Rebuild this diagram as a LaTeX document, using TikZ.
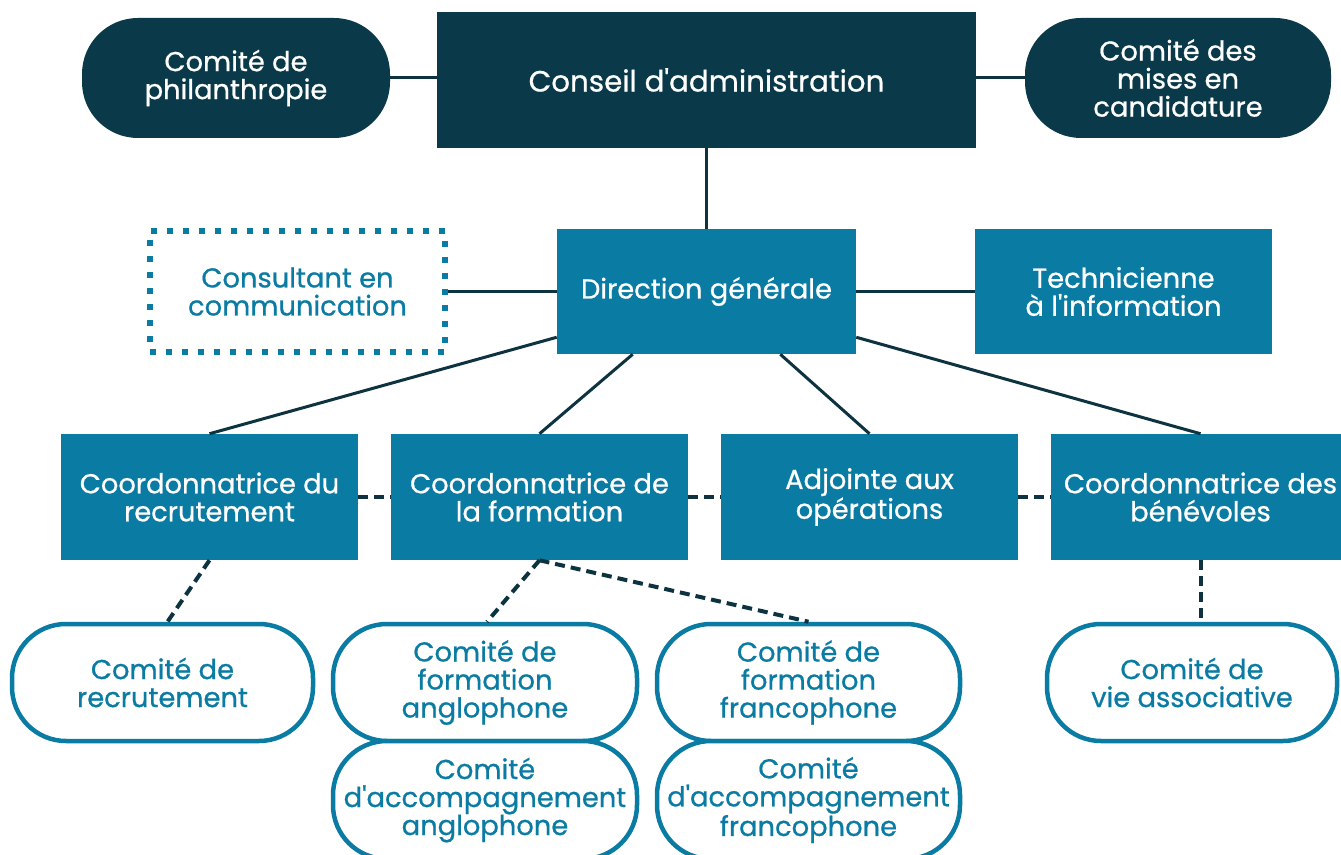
\documentclass[tikz,border=0pt]{standalone}
\usepackage{fontspec}
\newfontfamily\pop{Poppins}[FakeBold=0.7]
\newdimen\px \px=0.75pt
\definecolor{navy}{HTML}{0A3A4A}
\definecolor{teal}{HTML}{0A7BA3}
\definecolor{linec}{HTML}{0D3340}
\tikzset{
  base/.style={align=center, inner sep=0pt, font=\pop\fontsize{20.5}{21}\selectfont},
  darkpill/.style={base, fill=navy, text=white, rounded corners=56\px},
  darkbox/.style={base, fill=navy, text=white, font=\pop\fontsize{22}{22}\selectfont},
  tealbox/.style={base, fill=teal, text=white},
  dotbox/.style={base, draw=teal, text=teal, line width=6\px, dash pattern=on 6\px off 10\px},
  whitepill/.style={base, draw=teal, fill=white, text=teal, line width=4.5\px, rounded corners=54\px},
  solidc/.style={draw=linec, line width=3\px},
  dashc/.style={draw=linec, line width=4\px, dash pattern=on 10\px off 6\px},
}
\begin{document}
\begin{tikzpicture}[x=0.75pt, y=-0.75pt]
\clip (0,0) rectangle (1341,855);
\fill[white] (0,0) rectangle (1341,855);
% top row
\node[darkbox, minimum width=539\px, minimum height=136\px] (conseil) at (706.5,80) {Conseil d'administration};
\node[darkpill, minimum width=308\px, minimum height=120\px] (phil) at (236,78) {Comité de\\philanthropie};
\node[darkpill, minimum width=306\px, minimum height=120\px] (nom) at (1178,78) {Comité des\\mises en\\candidature};
% second row
\node[tealbox, minimum width=299\px, minimum height=125\px] (dg) at (706.5,291.5) {Direction générale};
\node[dotbox, minimum width=295\px, minimum height=121\px] (cons) at (297.5,291.5) {Consultant en\\communication};
\node[tealbox, minimum width=297\px, minimum height=125\px] (tech) at (1123.5,291.5) {Technicienne\\à l'information};
% third row
\node[tealbox, minimum width=297\px, minimum height=126\px] (cr) at (209.5,497) {Coordonnatrice du\\recrutement};
\node[tealbox, minimum width=297\px, minimum height=126\px] (cf) at (539.5,497) {Coordonnatrice de\\la formation};
\node[tealbox, minimum width=297\px, minimum height=126\px] (adj) at (869.5,497) {Adjointe aux\\opérations};
\node[tealbox, minimum width=299\px, minimum height=126\px] (cb) at (1200.5,497) {Coordonnatrice des\\bénévoles};
% bottom
\node[whitepill, minimum width=301\px, minimum height=117\px] (comrec) at (162.5,682.5) {Comité de\\recrutement};
\node[whitepill, minimum width=304\px, minimum height=117\px] (cfa) at (485,682.5) {Comité de\\formation\\anglophone};
\node[whitepill, minimum width=303\px, minimum height=117\px] (cff) at (808.5,682.5) {Comité de\\formation\\francophone};
\node[whitepill, minimum width=304\px, minimum height=118\px] (caa) at (485,800) {Comité\\d'accompagnement\\anglophone};
\node[whitepill, minimum width=303\px, minimum height=118\px] (caf) at (808.5,800) {Comité\\d'accompagnement\\francophone};
\node[whitepill, minimum width=290\px, minimum height=117\px] (cva) at (1192,682.5) {Comité de\\vie associative};
% solid connectors
\draw[solidc] (phil.east) -- (phil.east -| conseil.west);
\draw[solidc] (nom.west -| conseil.east) -- (nom.west);
\draw[solidc] (conseil.south) -- (dg.north);
\draw[solidc] (cons.east) -- (dg.west);
\draw[solidc] (dg.east) -- (tech.west);
\draw[solidc] ([yshift=17\px]dg.south west) -- (cr.north);
\draw[solidc] ([xshift=76\px]dg.south west) -- (cf.north);
\draw[solidc] ([xshift=-76\px]dg.south east) -- (adj.north);
\draw[solidc] ([yshift=17\px]dg.south east) -- (cb.north);
% dashed connectors
\draw[dashc] (cr.east) -- (cf.west);
\draw[dashc] (cf.east) -- (adj.west);
\draw[dashc] (adj.east) -- (cb.west);
\draw[dashc] (cr.south) -- ([xshift=5\px]comrec.north);
\draw[dashc] (cf.south) -- ([xshift=2\px]cfa.north);
\draw[dashc] (cf.south) -- (cff.north);
\draw[dashc] (cb.south) -- (cb.south |- cva.north);
\end{tikzpicture}
\end{document}
